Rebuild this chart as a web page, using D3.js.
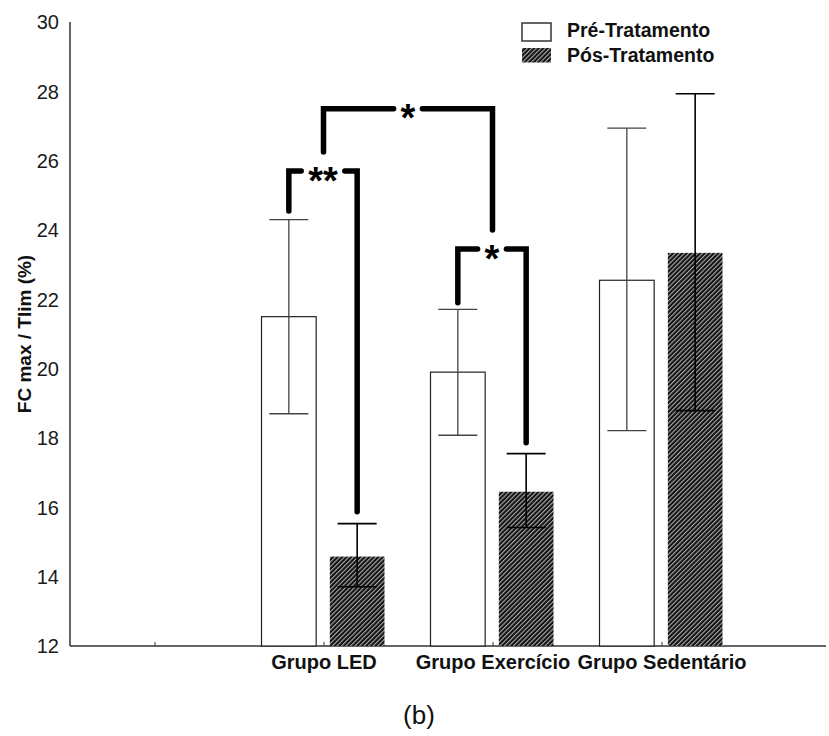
<!DOCTYPE html>
<html>
<head>
<meta charset="utf-8">
<script src="https://cdn.jsdelivr.net/npm/d3@7"></script>
<style>
  html, body { margin: 0; padding: 0; background: #fff; }
  svg { display: block; font-family: "Liberation Sans", Arial, sans-serif; }
</style>
</head>
<body>
<svg id="chart" width="829" height="736"></svg>
<script>
// Category slots along the x axis (the first slot is left empty)
const categories = ["", "Grupo LED", "Grupo Exercício", "Grupo Sedentário"];
const groups = ["Grupo LED", "Grupo Exercício", "Grupo Sedentário"];
const series = ["Pré-Tratamento", "Pós-Tratamento"];

// Mean and error-bar limits per group
const preMean  = [21.5, 19.9, 22.55];
const preLow   = [18.7, 18.08, 18.21];
const preHigh  = [24.3, 21.71, 26.94];
const postMean = [14.58, 16.45, 23.34];
const postLow  = [13.71, 15.42, 18.79];
const postHigh = [15.53, 17.55, 27.93];

const yTicks = [12, 14, 16, 18, 20, 22, 24, 26, 28, 30];

// Significance brackets: from/to group + series index (null = group centre)
const sigLabel      = ["**", "*", "*"];
const sigFromGroup  = ["Grupo LED", "Grupo Exercício", "Grupo LED"];
const sigFromSeries = [0, 0, null];
const sigToGroup    = ["Grupo LED", "Grupo Exercício", "Grupo Exercício"];
const sigToSeries   = [1, 1, null];
const sigTop        = [25.7, 23.45, 27.5];
const sigFromEnd    = [24.55, 21.9, 26.25];
const sigToEnd      = [15.87, 17.86, 24.0];

const svg = d3.select("#chart");

// Hatch pattern for the post-treatment bars
const defs = svg.append("defs");
const pat = defs.append("pattern")
  .attr("id", "hatch")
  .attr("patternUnits", "userSpaceOnUse")
  .attr("width", 3.2).attr("height", 3.2)
  .attr("patternTransform", "rotate(45)");
pat.append("rect").attr("width", 3.2).attr("height", 3.2).attr("fill", "#111");
pat.append("line").attr("x1", 0.6).attr("y1", 0).attr("x2", 0.6).attr("y2", 3.2)
  .attr("stroke", "#d0d0d0").attr("stroke-width", 0.9);

const x = d3.scalePoint().domain(categories).range([70, 746]).padding(0.5);
const xs = d3.scaleBand().domain([0, 1]).range([-62, 61]).paddingInner(0.2);
const y = d3.scaleLinear().domain([12, 30]).range([646, 22]);

const barX = (g, s) => x(g) + xs(s);
const barC = (g, s) => x(g) + xs(s) + xs.bandwidth() / 2;

// Y axis: line + labels, no tick marks
svg.append("line")
  .attr("x1", 70).attr("x2", 70).attr("y1", y(30)).attr("y2", y(12))
  .attr("stroke", "#333").attr("stroke-width", 1.5);
svg.append("g").selectAll("text").data(yTicks).join("text")
  .attr("x", 59).attr("y", d => y(d)).attr("dy", "0.36em")
  .attr("text-anchor", "end").attr("font-size", 20).attr("fill", "#1a1a1a")
  .text(d => d);

svg.append("text")
  .attr("transform", `translate(31,${(y(30) + y(12)) / 2}) rotate(-90)`)
  .attr("text-anchor", "middle").attr("font-size", 19).attr("font-weight", "bold")
  .attr("fill", "#111")
  .text("FC max / Tlim (%)");

// X axis
svg.append("line")
  .attr("x1", 70).attr("x2", 826).attr("y1", y(12)).attr("y2", y(12))
  .attr("stroke", "#333").attr("stroke-width", 1.5);
const xAxis = svg.append("g")
  .attr("transform", `translate(0,${y(12)})`)
  .call(d3.axisBottom(x).tickSizeInner(-4).tickSizeOuter(0));
xAxis.select(".domain").remove();
xAxis.selectAll(".tick line").attr("stroke", "#333");
xAxis.selectAll(".tick text")
  .attr("y", 23).attr("dy", 0)
  .attr("font-size", 20).attr("font-weight", "bold")
  .attr("font-family", "\"Liberation Sans\", Arial, sans-serif")
  .attr("fill", "#111");

// Bars
const rows = groups.map((g, i) => [
  { g, s: 0, m: preMean[i],  lo: preLow[i],  hi: preHigh[i] },
  { g, s: 1, m: postMean[i], lo: postLow[i], hi: postHigh[i] }
]).flat();

svg.append("g").selectAll("rect").data(rows).join("rect")
  .attr("x", d => barX(d.g, d.s))
  .attr("width", xs.bandwidth())
  .attr("y", d => y(d.m))
  .attr("height", d => y(12) - y(d.m))
  .attr("fill", d => d.s === 0 ? "#fff" : "url(#hatch)")
  .attr("stroke", d => d.s === 0 ? "#222" : "none")
  .attr("stroke-width", 1.2);

// Error bars
const capW = 39;
const eb = svg.append("g").selectAll("g").data(rows).join("g")
  .attr("stroke", d => d.s === 0 ? "#444" : "#000")
  .attr("stroke-width", d => d.s === 0 ? 1.3 : 1.6);
eb.append("line")
  .attr("x1", d => barC(d.g, d.s)).attr("x2", d => barC(d.g, d.s))
  .attr("y1", d => y(d.lo)).attr("y2", d => y(d.hi));
eb.append("line")
  .attr("x1", d => barC(d.g, d.s) - capW / 2).attr("x2", d => barC(d.g, d.s) + capW / 2)
  .attr("y1", d => y(d.hi)).attr("y2", d => y(d.hi));
eb.append("line")
  .attr("x1", d => barC(d.g, d.s) - capW / 2).attr("x2", d => barC(d.g, d.s) + capW / 2)
  .attr("y1", d => y(d.lo)).attr("y2", d => y(d.lo));

// Significance brackets
const starSize = 38;
const pos = (g, s) => s === null ? x(g) : barC(g, s);
sigLabel.forEach((lab, i) => {
  const x0 = pos(sigFromGroup[i], sigFromSeries[i]);
  const x1 = pos(sigToGroup[i], sigToSeries[i]);
  const yt = y(sigTop[i]);
  const xm = (x0 + x1) / 2;
  const t = svg.append("text")
    .attr("x", xm).attr("y", yt + 0.6 * starSize)
    .attr("text-anchor", "middle").attr("font-size", starSize)
    .attr("font-weight", "bold").attr("fill", "#000")
    .text(lab);
  const half = t.node().getComputedTextLength() / 2 + 7;
  const g = svg.append("g").attr("fill", "none").attr("stroke", "#000")
    .attr("stroke-width", 5.5).attr("stroke-linecap", "round")
    .attr("stroke-linejoin", "miter");
  g.append("path").attr("d", `M${x0},${y(sigFromEnd[i])}V${yt}H${xm - half}`);
  g.append("path").attr("d", `M${xm + half},${yt}H${x1}V${y(sigToEnd[i])}`);
});

// Legend
const leg = svg.append("g");
series.forEach((s, i) => {
  const top = i === 0 ? 23 : 48;
  const h = i === 0 ? 18 : 14.5;
  leg.append("rect").attr("x", 522).attr("y", top).attr("width", 29).attr("height", h)
    .attr("fill", i === 0 ? "#fff" : "url(#hatch)")
    .attr("stroke", i === 0 ? "#333" : "none").attr("stroke-width", 1.5);
  leg.append("text").attr("x", 567).attr("y", i === 0 ? 37 : 62)
    .attr("font-size", 19.5).attr("font-weight", "bold").attr("fill", "#111")
    .text(s);
});

// Panel label
svg.append("text")
  .attr("x", 419).attr("y", 724).attr("text-anchor", "middle")
  .attr("font-size", 26).attr("fill", "#111")
  .text("(b)");
</script>
</body>
</html>
